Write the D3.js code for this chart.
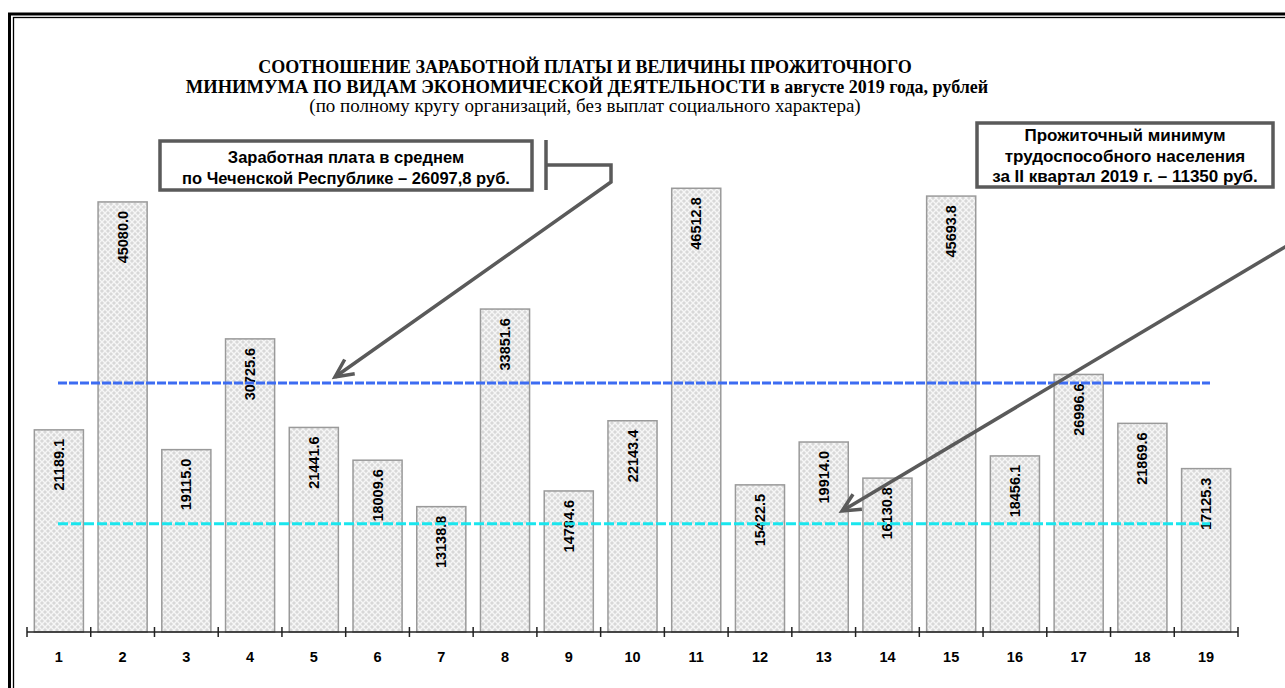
<!DOCTYPE html>
<html>
<head>
<meta charset="utf-8">
<script src="https://cdn.jsdelivr.net/npm/d3@7"></script>
<style>
  html, body { margin: 0; padding: 0; background: #fff; }
  svg { display: block; }
</style>
</head>
<body>
<svg id="chart" width="1285" height="688"></svg>
<script>
// ---- data ----
const categories = ["1","2","3","4","5","6","7","8","9","10","11","12","13","14","15","16","17","18","19"];
const wages = [21189.1, 45080.0, 19115.0, 30725.6, 21441.6, 18009.6, 13138.8, 33851.6, 14784.6, 22143.4,
               46512.8, 15422.5, 19914.0, 16130.8, 45693.8, 18456.1, 26996.6, 21869.6, 17125.3];
const valueLabels = ["21189.1","45080.0","19115.0","30725.6","21441.6","18009.6","13138.8","33851.6","14784.6","22143.4",
                     "46512.8","15422.5","19914.0","16130.8","45693.8","18456.1","26996.6","21869.6","17125.3"];
const averageWage = 26097.8;
const subsistenceMin = 11350;
const titleLines = ["СООТНОШЕНИЕ ЗАРАБОТНОЙ ПЛАТЫ И ВЕЛИЧИНЫ ПРОЖИТОЧНОГО",
                    "МИНИМУМА ПО ВИДАМ ЭКОНОМИЧЕСКОЙ ДЕЯТЕЛЬНОСТИ",
                    " в августе 2019 года, рублей",
                    "(по полному кругу организаций, без выплат социального характера)"];
const callout1 = ["Заработная плата в среднем", "по Чеченской Республике – 26097,8 руб."];
const callout2 = ["Прожиточный минимум", "трудоспособного населения", "за II квартал 2019 г. – 11350 руб."];

// ---- drawing ----
const svg = d3.select("#chart");
const defs = svg.append("defs");
const pat = defs.append("pattern").attr("id","hatch").attr("patternUnits","userSpaceOnUse")
  .attr("width",6).attr("height",6);
pat.append("rect").attr("width",6).attr("height",6).attr("fill","#d8d8d8");
pat.append("path").attr("d","M0,0 L6,6 M6,0 L0,6").attr("stroke","#f6f6f6").attr("stroke-width",1.4);

// frame (double line)
svg.append("rect").attr("x",9.5).attr("y",14).attr("width",1300).attr("height",700)
  .attr("fill","none").attr("stroke","#000").attr("stroke-width",3);
svg.append("rect").attr("x",13.5).attr("y",17.5).attr("width",1300).attr("height",700)
  .attr("fill","none").attr("stroke","#000").attr("stroke-width",1.3);

const x = d3.scaleBand().domain(categories).range([27, 1238]).padding(0);
const y = d3.scaleLinear().domain([0, 50000]).range([632, 155]);
const bw = x.bandwidth();

// bars
svg.append("g").selectAll("rect").data(wages).join("rect")
  .attr("x",(d,i)=>x(categories[i]) + bw*0.115)
  .attr("width", bw*0.77)
  .attr("y", d=>y(d))
  .attr("height", d=>y(0)-y(d))
  .attr("fill","url(#hatch)")
  .attr("stroke","#9a9a9a").attr("stroke-width",1.5);

// value labels (rotated)
svg.append("g").selectAll("text").data(wages).join("text")
  .attr("transform",(d,i)=>`translate(${x(categories[i])+bw/2+5},${y(d)+9}) rotate(-90)`)
  .attr("text-anchor","end")
  .attr("font-family","Liberation Sans, Arial, sans-serif")
  .attr("font-weight","bold").attr("font-size",14.5).attr("fill","#000")
  .text((d,i)=>valueLabels[i]);

// reference lines
svg.append("line").attr("x1",58).attr("x2",1210).attr("y1",y(averageWage)).attr("y2",y(averageWage))
  .attr("stroke","#3d6cf2").attr("stroke-width",3).attr("stroke-dasharray","9,2");
svg.append("line").attr("x1",58).attr("x2",1210).attr("y1",y(subsistenceMin)).attr("y2",y(subsistenceMin))
  .attr("stroke","#19e6ee").attr("stroke-width",3).attr("stroke-dasharray","10,3");

// axis
const ax = svg.append("g");
ax.append("line").attr("x1",27).attr("x2",1238).attr("y1",632).attr("y2",632).attr("stroke","#222").attr("stroke-width",1.5);
const bounds = categories.map(c=>x(c)).concat([x(categories[categories.length-1])+bw]);
ax.selectAll("line.t").data(bounds).join("line").attr("class","t")
  .attr("x1",d=>d).attr("x2",d=>d).attr("y1",627).attr("y2",637).attr("stroke","#222").attr("stroke-width",1.5);
ax.selectAll("text").data(categories).join("text")
  .attr("x",d=>x(d)+bw/2).attr("y",662).attr("text-anchor","middle")
  .attr("font-family","Liberation Sans, Arial, sans-serif").attr("font-weight","bold").attr("font-size",14.5)
  .text(d=>d);

// title
const tf = "Liberation Serif, 'Times New Roman', serif";
svg.append("text").attr("x",585).attr("y",73).attr("text-anchor","middle").attr("font-family",tf)
  .attr("font-weight","bold").attr("font-size",18).text(titleLines[0]);
const t2 = svg.append("text").attr("x",587).attr("y",93).attr("text-anchor","middle").attr("font-family",tf)
  .attr("font-weight","bold");
t2.append("tspan").attr("font-size",18.5).text(titleLines[1]);
t2.append("tspan").attr("font-size",18).text(titleLines[2]);
svg.append("text").attr("x",585).attr("y",112).attr("text-anchor","middle").attr("font-family",tf)
  .attr("font-size",19).text(titleLines[3]);

// callout boxes
const cf = "Liberation Sans, Arial, sans-serif";
function callout(x0,y0,w,h,lines,ly,dy,fs){
  svg.append("rect").attr("x",x0).attr("y",y0).attr("width",w).attr("height",h)
    .attr("fill","#fff").attr("stroke","#5a5a5a").attr("stroke-width",3.5);
  lines.forEach((t,i)=>svg.append("text").attr("x",x0+w/2).attr("y",ly+i*dy).attr("text-anchor","middle")
    .attr("font-family",cf).attr("font-weight","bold").attr("font-size",fs).text(t));
}
callout(160,141,372,49,callout1,163,21,16.5);
callout(977,123,296,64,callout2,141,20.5,17);

// arrows
function arrow(pts){
  const g = svg.append("g").attr("stroke","#5a5a5a").attr("stroke-width",3.5).attr("fill","none");
  g.append("path").attr("d", d3.line()(pts));
  const [x1,y1] = pts[pts.length-2], [x2,y2] = pts[pts.length-1];
  const a = Math.atan2(y2-y1,x2-x1), L = 20, s = 0.45;
  const p1 = [x2 - L*Math.cos(a-s), y2 - L*Math.sin(a-s)];
  const p2 = [x2 - L*Math.cos(a+s), y2 - L*Math.sin(a+s)];
  g.append("path").attr("d", d3.line()([p1,[x2,y2],p2]));
}
svg.append("path").attr("d", d3.line()([[546,140],[546,190]])).attr("stroke","#5a5a5a").attr("stroke-width",3.5);
arrow([[546,165],[611,165],[611,182],[335,377]]);
arrow([[1300,238],[842,511]]);
</script>
</body>
</html>
